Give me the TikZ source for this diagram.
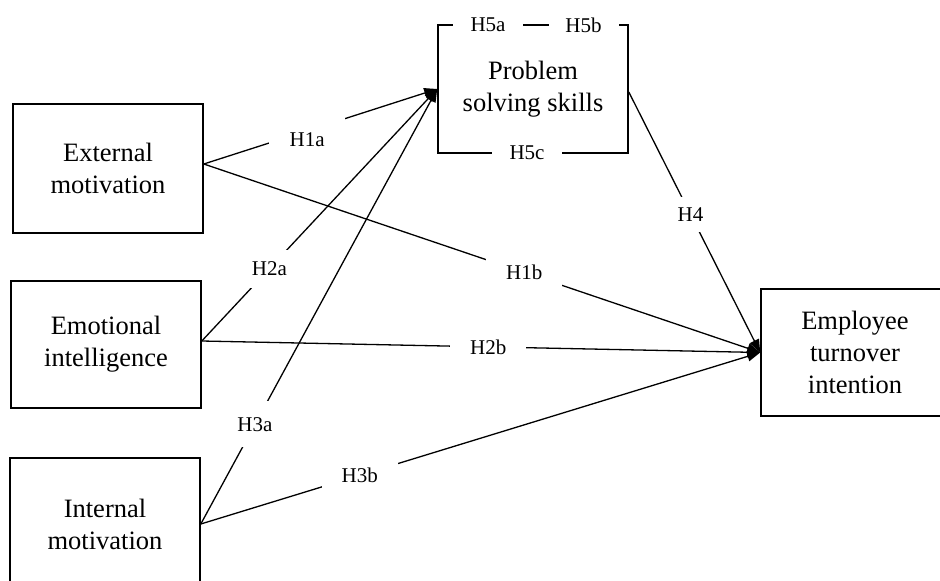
\documentclass[tikz,border=0pt]{standalone}
\usepackage{fontspec}
\setmainfont{Liberation Serif}
\usetikzlibrary{arrows.meta}
\begin{document}
\begin{tikzpicture}[x=1pt,y=-1pt,
  box/.style={draw, line width=1.6pt, align=center, inner sep=0pt, font=\fontsize{26.5}{32}\selectfont},
  conn/.style={line width=1.3pt, -{Triangle[length=13pt,width=10pt]}},
  gap/.style={fill=white, inner sep=0pt, minimum width=76pt, minimum height=38pt, font=\fontsize{21}{24}\selectfont},
  lbl/.style={inner sep=0pt, font=\fontsize{21}{24}\selectfont},
  gapfive/.style={fill=white, inner sep=0pt, minimum width=70pt, minimum height=20pt, font=\fontsize{21}{24}\selectfont}]
\useasboundingbox (0,0) rectangle (940,581);
\clip (0,0) rectangle (940,581);
\fill[white] (0,0) rectangle (940,581);
% boxes
\node[box, minimum width=190pt, minimum height=129pt] (ext) at (108,168.5) {External\\motivation};
\node[box, minimum width=190pt, minimum height=127pt] (emo) at (106,344.5) {Emotional\\intelligence};
\node[box, minimum width=190pt, minimum height=132pt] (int) at (105,524) {Internal\\motivation};
\node[box, minimum width=190pt, minimum height=128pt] (ps) at (533,89) {Problem\\solving skills};
\node[box, minimum width=188pt, minimum height=127pt] (emp) at (855,352.5) {Employee\\turnover\\intention};
% gaps in the problem solving box border
\node[gapfive] (h5a) at (488,25) {H5a};
\node[gapfive] (h5b) at (583.5,25) {H5b};
\node[gapfive] (h5c) at (527,153) {H5c};
% connectors
\draw[conn] ([yshift=4.5pt]ext.east) -- node[gap, pos=0.443] (g1) {} (ps.west);
\node[lbl] (h1a) at ([yshift=-9pt]g1) {H1a};
\draw[conn] ([yshift=4.5pt]ext.east) -- node[gap, pos=0.576] (h1b) {H1b} (emp.west);
\draw[conn] ([yshift=3.5pt]emo.east) -- node[gap, pos=0.287] (h2a) {H2a} (ps.west);
\draw[conn] ([yshift=3.5pt]emo.east) -- node[gap, pos=0.513] (h2b) {H2b} (emp.west);
\draw[conn] (int.east) -- node[gap, pos=0.229, minimum height=46pt] (h3a) {H3a} (ps.west);
\draw[conn] (int.east) -- node[gap, pos=0.284] (h3b) {H3b} (emp.west);
\draw[conn] ([yshift=-3pt]ps.east) -- node[gap, pos=0.47, minimum height=35pt] (h4) {H4} (emp.west);
\end{tikzpicture}
\end{document}
